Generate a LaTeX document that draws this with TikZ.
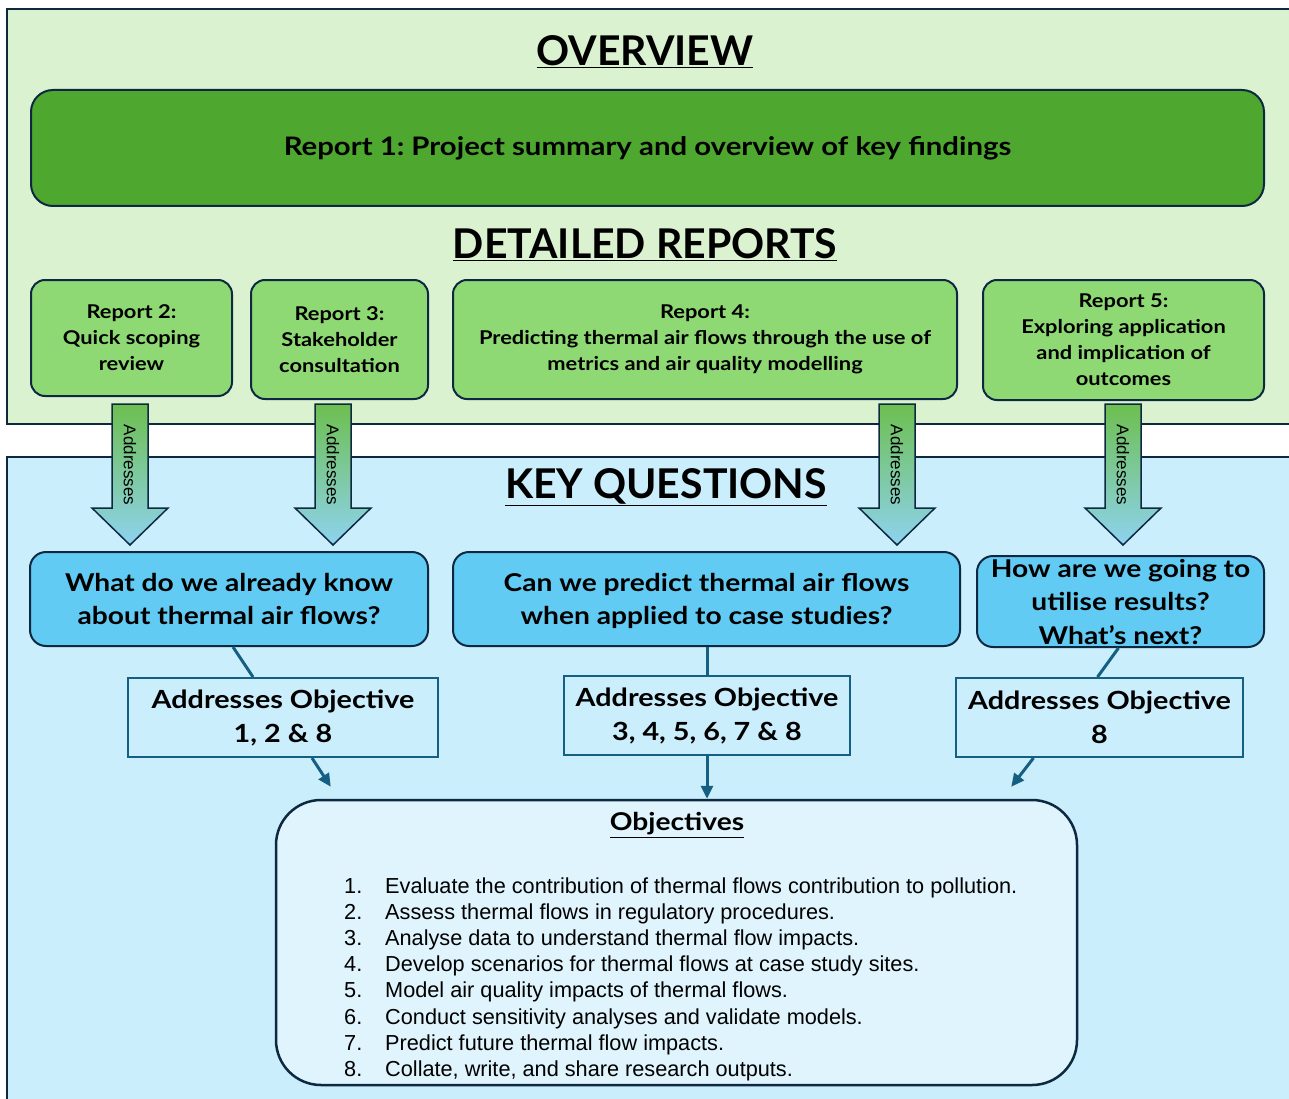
\documentclass[tikz,border=0pt]{standalone}
\usepackage{fontspec}
\setmainfont{Lato}
\newfontfamily\bodyf[FakeStretch=1.15]{Lato}
\newfontfamily\arialf{Liberation Sans}
\usetikzlibrary{arrows.meta,calc}
\definecolor{dark}{HTML}{0E2841}
\definecolor{greenbg}{HTML}{DAF2D0}
\definecolor{bluebg}{HTML}{CAEEFB}
\definecolor{rep1}{HTML}{4EA72E}
\definecolor{rep}{HTML}{8ED973}
\definecolor{qbox}{HTML}{61CBF3}
\definecolor{objbg}{HTML}{DFF4FC}
\definecolor{acc}{HTML}{156082}
\definecolor{arrtop}{HTML}{6DBF4F}
\definecolor{arrmid}{HTML}{D8EEDC}
\definecolor{arrbot}{HTML}{8ED3F0}
\frenchspacing
\tikzset{
  heading/.style={font=\bfseries\fontsize{41}{48}\selectfont, inner sep=0},
  repbox/.style={draw=dark, line width=2, fill=rep, rounded corners=14, inner sep=0, align=center,
     font=\bodyf\bfseries\fontsize{19}{26}\selectfont},
  qstyle/.style={draw=dark, line width=2, fill=qbox, rounded corners=16, inner sep=0, align=center,
     font=\bodyf\bfseries\fontsize{24.5}{33}\selectfont},
  abox/.style={draw=acc, line width=2, fill=bluebg, inner sep=0, align=center,
     font=\bodyf\bfseries\fontsize{25}{34}\selectfont},
  conn/.style={draw=acc, line width=3},
  connarr/.style={draw=acc, line width=3, -{Triangle[length=13,width=12]}},
  objitem/.style={font=\arialf\fontsize{21.7}{26}\selectfont, inner sep=0, anchor=base west},
}
\begin{document}
\begin{tikzpicture}[x=1pt,y=-1pt]
\clip (0,0) rectangle (1289,1099);
\fill[white] (0,0) rectangle (1289,1099);
% panels
\path[draw=dark, line width=2, fill=greenbg] (7,9) rectangle (1300,424);
\path[draw=dark, line width=2, fill=bluebg] (7,457) rectangle (1300,1110);
% headings
\node[heading] (ov) at (645,52) {\underline{OVERVIEW}};
\node[heading] (dr) at (645,245) {\underline{DETAILED REPORTS}};
\node[heading] (kq) at (666,487) {\underline{KEY QUESTIONS}};
% report 1
\node[draw=dark, line width=2, fill=rep1, rounded corners=22, inner sep=0,
      minimum width=1233, minimum height=116, font=\bodyf\bfseries\fontsize{25.5}{30}\selectfont]
      (r1) at (647.5,148) {Report 1: Project summary and overview of key findings};
% reports 2-5
\node[repbox, minimum width=201, minimum height=116] (r2) at (131.5,338) {Report 2:\\Quick scoping\\review};
\node[repbox, minimum width=177, minimum height=119] (r3) at (339.5,339.5) {Report 3:\\Stakeholder\\consultation};
\node[repbox, minimum width=504, minimum height=119] (r4) at (705,339.5) {Report 4:\\Predicting thermal air flows through the use of\\metrics and air quality modelling};
\node[repbox, minimum width=281, minimum height=120] (r5) at (1123.5,340) {Report 5:\\Exploring application\\and implication of\\outcomes};
% block arrows
\foreach \x/\n in {130/1,333/2,897/3,1123/4}{
  \path[draw=dark, line width=1.5, top color=arrtop, middle color=arrmid, bottom color=arrbot]
    (\x-18,404) -- (\x+18,404) -- (\x+18,508) -- (\x+38,508) -- (\x,545) -- (\x-38,508) -- (\x-18,508) -- cycle;
  \node[rotate=-90, font=\arialf\fontsize{17}{20}\selectfont, inner sep=0] (ad\n) at (\x,465) {Addresses};
}
% questions
\node[qstyle, minimum width=398, minimum height=94] (q1) at (229,599) {What do we already know\\about thermal air flows?};
\node[qstyle, minimum width=507, minimum height=94] (q2) at (706.5,599) {};
\node[align=center, inner sep=0, font=\bodyf\bfseries\fontsize{24.5}{33}\selectfont] (q2t) at (706.5,601) {Can we predict thermal air flows\\when applied to case studies?};
\node[qstyle, minimum width=287, minimum height=91] (q3) at (1120.5,601.5) {};
\node[align=center, inner sep=0, font=\bodyf\bfseries\fontsize{24.5}{33.5}\selectfont] (q3t) at (1120.5,602) {How are we going to\\utilise results?\\What’s next?};
% addresses objective boxes
\node[abox, minimum width=310, minimum height=79] (a1) at (283,717.5) {Addresses Objective\\1, 2 \& 8};
\node[abox, minimum width=286, minimum height=79] (a2) at (707,715.5) {Addresses Objective\\3, 4, 5, 6, 7 \& 8};
\node[abox, minimum width=287, minimum height=79] (a3) at (1099.5,717.5) {Addresses Objective\\8};
% objectives box
\node[draw=dark, line width=2.5, fill=objbg, rounded corners=45, minimum width=801, minimum height=285, inner sep=0]
   (ob) at (676.5,942.5) {};
\node[font=\bodyf\bfseries\fontsize{24.5}{28}\selectfont, inner sep=0] (obt) at (677,825) {\underline{Objectives}};
\foreach \i/\t [count=\k from 0] in {
  1/{Evaluate the contribution of thermal flows contribution to pollution.},
  2/{Assess thermal flows in regulatory procedures.},
  3/{Analyse data to understand thermal flow impacts.},
  4/{Develop scenarios for thermal flows at case study sites.},
  5/{Model air quality impacts of thermal flows.},
  6/{Conduct sensitivity analyses and validate models.},
  7/{Predict future thermal flow impacts.},
  8/{Collate, write, and share research outputs.}}{
  \node[objitem] (on\i) at (344,{893+26.2*\k}) {\i.};
  \node[objitem] (ot\i) at (385,{893+26.2*\k}) {\t};
}
% connectors
\draw[conn] ([xshift=4]q1.south) -- ([xshift=-30]a1.north);
\draw[connarr] ([xshift=29]a1.south) -- ($(ob.north west)+(56,-12)$);
\draw[conn] (q2.south -| a2.north) -- (a2.north);
\draw[connarr] (a2.south) -- (a2.south |- ob.north);
\draw[conn] ([xshift=-2]q3.south) -- ([xshift=-2]a3.north);
\draw[connarr] ([xshift=-66]a3.south) -- ($(ob.north east)+(-67,-12)$);
\end{tikzpicture}
\end{document}
